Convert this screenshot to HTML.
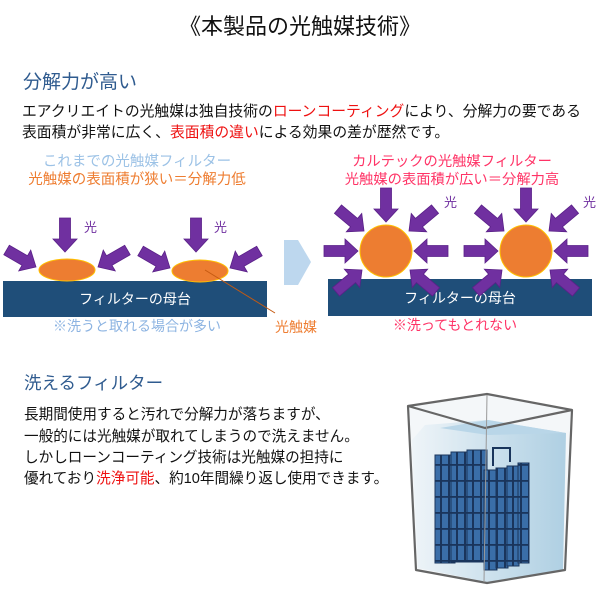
<!DOCTYPE html>
<html><head><meta charset="utf-8"><style>
html,body{margin:0;padding:0;background:#fff}
svg{display:block}
text{font-family:"Liberation Sans","Noto Sans CJK JP",sans-serif}
</style></head><body>
<svg width="600" height="602" viewBox="0 0 600 602" xmlns="http://www.w3.org/2000/svg">
<defs>
<polygon id="ar" points="-34,-5.5 -13,-5.5 -13,-12 0,0 -13,12 -13,5.5 -34,5.5" fill="#7030a0" stroke="#5a2088" stroke-width="0.8"/>
<linearGradient id="wat" x1="0" y1="0" x2="1" y2="0">
<stop offset="0" stop-color="#eef4f8"/><stop offset="0.5" stop-color="#c9dfec"/><stop offset="1" stop-color="#a7cbe0"/></linearGradient>
<pattern id="grid" width="8" height="16" patternUnits="userSpaceOnUse">
<rect width="8" height="16" fill="#3a6ea8"/><rect x="0" y="0" width="2" height="16" fill="#1a355c"/><rect x="0" y="0" width="8" height="1.8" fill="#1a355c"/></pattern>
</defs>

<text x="300" y="34" font-size="22" text-anchor="middle" fill="#111">《本製品の光触媒技術》</text>
<text x="23" y="88" font-size="19" fill="#2f5b8f">分解力が高い</text>
<text x="22" y="116" font-size="14.8" fill="#111">エアクリエイトの光触媒は独自技術の<tspan fill="#ee1111">ローンコーティング</tspan>により、分解力の要である</text>
<text x="22" y="137" font-size="14.8" fill="#111">表面積が非常に広く、<tspan fill="#ee1111">表面積の違い</tspan>による効果の差が歴然です。</text>

<!-- left diagram -->
<text x="137" y="166" font-size="14.5" text-anchor="middle" fill="#9cc2e6">これまでの光触媒フィルター</text>
<text x="137" y="184" font-size="14.5" text-anchor="middle" fill="#ee7d31">光触媒の表面積が狭い＝分解力低</text>
<rect x="3" y="281" width="264" height="36" fill="#1f4e79"/>
<text x="135" y="304" font-size="14" text-anchor="middle" fill="#fff">フィルターの母台</text>
<text x="137" y="331" font-size="14" text-anchor="middle" fill="#8db4e2">※洗うと取れる場合が多い</text>
<ellipse cx="67" cy="270" rx="28" ry="11" fill="#ed7d31" stroke="#ffc000" stroke-width="1"/>
<ellipse cx="200" cy="271" rx="28" ry="11" fill="#ed7d31" stroke="#ffc000" stroke-width="1"/>
<use href="#ar" transform="translate(65,252) rotate(90)"/>
<use href="#ar" transform="translate(36,267) rotate(30)"/>
<use href="#ar" transform="translate(98,267) rotate(150)"/>
<use href="#ar" transform="translate(196,252) rotate(90)"/>
<use href="#ar" transform="translate(170,268) rotate(30)"/>
<use href="#ar" transform="translate(230,268) rotate(150)"/>
<text x="84" y="232" font-size="13" fill="#7030a0">光</text>
<text x="214" y="232" font-size="13" fill="#7030a0">光</text>
<line x1="205" y1="270" x2="275" y2="313" stroke="#c55a11" stroke-width="1"/>
<text x="275" y="332" font-size="14" fill="#ee7d31">光触媒</text>
<polygon points="284,240 298,240 311,262 298,285 284,285" fill="#bdd7ee"/>

<!-- right diagram -->
<text x="452" y="166" font-size="14.3" text-anchor="middle" fill="#ff3366">カルテックの光触媒フィルター</text>
<text x="452" y="184" font-size="14.3" text-anchor="middle" fill="#ff3366">光触媒の表面積が広い＝分解力高</text>
<rect x="328" y="279" width="264" height="37" fill="#1f4e79"/>
<text x="460" y="303" font-size="14" text-anchor="middle" fill="#fff">フィルターの母台</text>
<text x="455" y="330" font-size="14" text-anchor="middle" fill="#ff3366">※洗ってもとれない</text>
<circle cx="386" cy="251" r="26" fill="#ed7d31" stroke="#ffc000" stroke-width="1"/>
<circle cx="526" cy="251" r="26" fill="#ed7d31" stroke="#ffc000" stroke-width="1"/>
<g>
<use href="#ar" transform="translate(386,222) rotate(90)"/>
<use href="#ar" transform="translate(364,231) rotate(40)"/>
<use href="#ar" transform="translate(409,231) rotate(140)"/>
<use href="#ar" transform="translate(358,251) rotate(0)"/>
<use href="#ar" transform="translate(414,251) rotate(180)"/>
<use href="#ar" transform="translate(362,270) rotate(-40)"/>
<use href="#ar" transform="translate(410,270) rotate(-140)"/>
<use href="#ar" transform="translate(526,222) rotate(90)"/>
<use href="#ar" transform="translate(504,231) rotate(40)"/>
<use href="#ar" transform="translate(549,231) rotate(140)"/>
<use href="#ar" transform="translate(498,251) rotate(0)"/>
<use href="#ar" transform="translate(554,251) rotate(180)"/>
<use href="#ar" transform="translate(502,270) rotate(-40)"/>
<use href="#ar" transform="translate(550,270) rotate(-140)"/>
</g>
<text x="444" y="207" font-size="13" fill="#7030a0">光</text>
<text x="583" y="207" font-size="13" fill="#7030a0">光</text>

<!-- bottom -->
<text x="24" y="389" font-size="17.5" fill="#2f5b8f">洗えるフィルター</text>
<text x="24" y="419" font-size="14.6" fill="#111">長期間使用すると汚れで分解力が落ちますが、</text>
<text x="24" y="441" font-size="14.6" fill="#111">一般的には光触媒が取れてしまうので洗えません。</text>
<text x="24" y="462" font-size="14.6" fill="#111">しかしローンコーティング技術は光触媒の担持に</text>
<text x="24" y="483" font-size="14.6" fill="#111">優れており<tspan fill="#ee1111">洗浄可能</tspan>、約10年間繰り返し使用できます。</text>

<!-- bucket -->
<polygon points="408,406 487,394 572,410 565,570 487,583 416,570" fill="#f4f7f9"/>
<polygon points="425,425 488,420 566,433 563,570 487,582 418,568 412,440" fill="url(#wat)" opacity="0.9"/>
<polygon points="488,420 566,433 488,435 440,428" fill="#b9d6e8"/>
<g>
<rect x="435" y="455" width="20" height="108" fill="url(#grid)" stroke="#1a355c"/>
<rect x="451" y="452" width="20" height="110" fill="url(#grid)" stroke="#1a355c"/>
<rect x="467" y="450" width="20" height="112" fill="url(#grid)" stroke="#1a355c"/>
<rect x="484" y="470" width="13" height="100" fill="url(#grid)" stroke="#1a355c"/>
<rect x="496" y="468" width="12" height="100" fill="url(#grid)" stroke="#1a355c"/>
<rect x="507" y="466" width="12" height="100" fill="url(#grid)" stroke="#1a355c"/>
<rect x="518" y="463" width="11" height="100" fill="url(#grid)" stroke="#1a355c"/>
<path d="M493,466 V448 H510 V462" fill="none" stroke="#1a355c" stroke-width="2"/>
</g>
<polygon points="408,406 487,394 572,410 565,570 487,583 416,570" fill="none" stroke="#666" stroke-width="2.2" stroke-linejoin="round"/>
<polyline points="408,406 485,428 572,410" fill="none" stroke="#666" stroke-width="2.2" stroke-linejoin="round"/>
<line x1="487" y1="395" x2="484" y2="582" stroke="#999" stroke-width="1"/>
</svg>
</body></html>
